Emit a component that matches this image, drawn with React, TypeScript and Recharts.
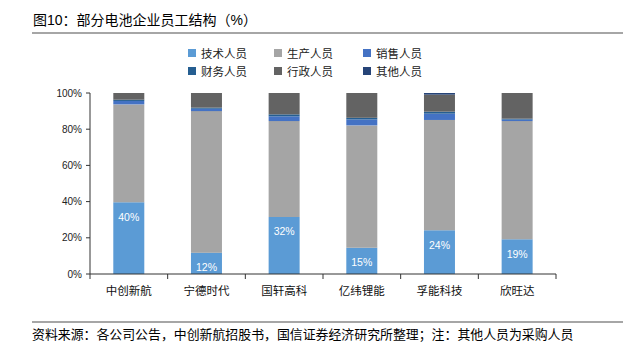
import { Bar, BarChart, LabelList, XAxis, YAxis } from "recharts";

const companies = ["中创新航", "宁德时代", "国轩高科", "亿纬锂能", "孚能科技", "欣旺达"];
const tech = [39.7, 11.8, 31.5, 14.5, 24.2, 19.2];
const production = [54.0, 78.2, 53.0, 67.6, 60.9, 65.3];
const sales = [1.9, 1.3, 2.6, 3.3, 3.5, 0.8];
const finance = [0.7, 0.6, 1.1, 0.9, 1.1, 0.5];
const admin = [3.7, 8.1, 11.8, 13.7, 9.4, 14.2];
const other = [0, 0, 0, 0, 0.9, 0];
const yTicks = [0, 20, 40, 60, 80, 100];

const series = [
  { key: "tech", name: "技术人员", values: tech, color: "#5B9BD5" },
  { key: "production", name: "生产人员", values: production, color: "#A5A5A5" },
  { key: "sales", name: "销售人员", values: sales, color: "#4472C4" },
  { key: "finance", name: "财务人员", values: finance, color: "#255E91" },
  { key: "admin", name: "行政人员", values: admin, color: "#636363" },
  { key: "other", name: "其他人员", values: other, color: "#264478" }
];

const data = companies.map((name, i) => {
  const row: { [k: string]: string | number } = { name };
  series.forEach((s) => {
    row[s.key] = s.values[i];
  });
  return row;
});

const FONT = '"Liberation Sans", Arial, "Noto Sans CJK SC", sans-serif';
const CHART_W = 623;
const CHART_H = 354;
const X_AXIS_H = 30;
const margin = { top: 93, right: 67, bottom: 80 - X_AXIS_H, left: 40 };
const Y_AXIS_W = 50;
const band = (CHART_W - margin.left - margin.right - Y_AXIS_W) / companies.length;

function CategoryTick(props: any) {
  const { x, y, payload, index } = props;
  return (
    <g>
      <line x1={x - band / 2} x2={x - band / 2} y1={y} y2={y + 5} stroke="#333" />
      {index === companies.length - 1 && (
        <line x1={x + band / 2} x2={x + band / 2} y1={y} y2={y + 5} stroke="#333" />
      )}
      <text
        x={x}
        y={y + 17}
        textAnchor="middle"
        dominantBaseline="central"
        fontSize={11.5}
        fill="#111"
        fontFamily={FONT}
      >
        {payload.value}
      </text>
    </g>
  );
}

export default function App() {
  return (
    <div
      style={{
        position: "absolute",
        left: 0,
        top: 0,
        width: CHART_W,
        height: CHART_H,
        background: "#fff",
        fontFamily: FONT,
        overflow: "hidden"
      }}
    >
      <div
        style={{
          position: "absolute",
          left: 33,
          top: 11,
          fontSize: 14,
          lineHeight: "18px",
          color: "#000"
        }}
      >
        图10：部分电池企业员工结构（%）
      </div>
      <div style={{ position: "absolute", left: 32, right: 0, top: 32, height: 2, background: "#A6A6A6" }} />
      <BarChart
        width={CHART_W}
        height={CHART_H}
        data={data}
        margin={margin}
        barCategoryGap="30%"
        style={{ position: "absolute", left: 0, top: 0 }}
      >
        <XAxis
          dataKey="name"
          height={X_AXIS_H}
          axisLine={{ stroke: "#333" }}
          tickLine={false}
          tickSize={0}
          tickMargin={0}
          interval={0}
          tick={<CategoryTick />}
        />
        <YAxis
          width={Y_AXIS_W}
          domain={[0, 100]}
          ticks={yTicks}
          tickFormatter={(v: number) => `${v}%`}
          axisLine={{ stroke: "#333" }}
          tickLine={{ stroke: "#333" }}
          tickSize={4}
          tickMargin={4}
          tick={{ fontSize: 10, fill: "#222", fontFamily: FONT }}
        />
        {series.map((s) => (
          <Bar
            key={s.key}
            dataKey={s.key}
            name={s.name}
            stackId="a"
            fill={s.color}
            isAnimationActive={false}
          >
            {s.key === "tech" && (
              <LabelList
                dataKey="tech"
                position="insideTop"
                offset={11}
                fill="#fff"
                fontSize={10.5}
                fontFamily={FONT}
                formatter={(v: number) => `${Math.round(v)}%`}
              />
            )}
          </Bar>
        ))}
      </BarChart>
      <div
        style={{
          position: "absolute",
          top: 46,
          left: 188,
          display: "grid",
          gridTemplateColumns: "86px 89px 86px",
          rowGap: 5,
          fontSize: 11.5,
          color: "#222"
        }}
      >
        {series.map((s) => (
          <div key={s.key} style={{ display: "flex", alignItems: "center", height: 13 }}>
            <span style={{ width: 8, height: 8, background: s.color, marginRight: 5, display: "inline-block" }} />
            {s.name}
          </div>
        ))}
      </div>
      <div style={{ position: "absolute", left: 32, right: 0, top: 321, height: 2, background: "#A6A6A6" }} />
      <div
        style={{
          position: "absolute",
          left: 32,
          top: 326,
          fontSize: 12.9,
          lineHeight: "18px",
          color: "#000",
          whiteSpace: "nowrap"
        }}
      >
        资料来源：各公司公告，中创新航招股书，国信证券经济研究所整理；注：其他人员为采购人员
      </div>
    </div>
  );
}
